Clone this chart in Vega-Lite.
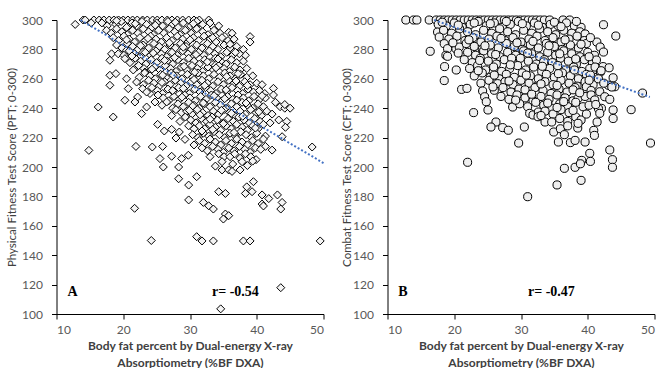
{
"$schema": "https://vega.github.io/schema/vega-lite/v6.json",
"background": "white",
"padding": {"left": 6.5, "top": 13, "right": 0, "bottom": 0},
"bounds": "flush",
"spacing": 64,
"config": {
  "view": {"stroke": null},
  "axis": {"grid": false, "domainColor": "#000000", "domainWidth": 1, "tickColor": "#000000", "tickSize": 5, "tickWidth": 1, "labelFont": "Lato", "labelFontSize": 12, "labelColor": "#595959", "labelOverlap": false, "titleFont": "Lato", "titleColor": "#404040"}
},
"datasets": {
"pft": [
{"x":14.0,"y":300},{"x":14.3,"y":300},{"x":15.6,"y":300},{"x":16.4,"y":300},{"x":17.1,"y":300},{"x":17.9,"y":300},{"x":18.6,"y":300},{"x":19.3,"y":300},{"x":20.0,"y":300},{"x":20.7,"y":300},{"x":21.4,"y":300},{"x":22.1,"y":300},{"x":22.9,"y":300},{"x":23.6,"y":300},{"x":24.4,"y":300},{"x":25.1,"y":300},{"x":25.8,"y":300},{"x":26.6,"y":300},{"x":27.3,"y":300},{"x":28.1,"y":300},{"x":28.9,"y":300},{"x":29.8,"y":300},{"x":30.6,"y":300},{"x":31.4,"y":300},{"x":32.8,"y":300},
{"x":12.8,"y":297},{"x":16.8,"y":298},{"x":17.6,"y":296},{"x":18.9,"y":297},{"x":19.7,"y":299},{"x":20.5,"y":295},{"x":21.3,"y":298},{"x":22.0,"y":296},{"x":22.8,"y":299},{"x":23.5,"y":297},{"x":24.3,"y":295},{"x":25.0,"y":298},{"x":25.9,"y":296},{"x":26.7,"y":299},{"x":27.4,"y":297},{"x":28.2,"y":295},{"x":29.0,"y":298},{"x":30.1,"y":296},{"x":31.0,"y":299},{"x":31.9,"y":297},{"x":33.5,"y":295},{"x":30.8,"y":295.5},
{"x":17.5,"y":293},{"x":18.2,"y":291},{"x":19.0,"y":294},{"x":19.8,"y":292},{"x":20.6,"y":290},{"x":21.4,"y":293},{"x":22.2,"y":291},{"x":23.0,"y":294},{"x":23.8,"y":292},{"x":24.5,"y":290},{"x":25.3,"y":293},{"x":26.1,"y":291},{"x":26.9,"y":294},{"x":27.7,"y":292},{"x":28.5,"y":290},{"x":29.3,"y":293},{"x":30.2,"y":291},{"x":31.0,"y":294},{"x":31.9,"y":292},{"x":32.7,"y":290},{"x":33.6,"y":293},{"x":34.5,"y":291},{"x":35.8,"y":291.6},{"x":36.3,"y":291},
{"x":18.5,"y":288},{"x":19.3,"y":286},{"x":20.1,"y":289},{"x":20.9,"y":287},{"x":21.7,"y":285},{"x":22.5,"y":288},{"x":23.3,"y":286},{"x":24.1,"y":289},{"x":24.9,"y":287},{"x":25.7,"y":285},{"x":26.5,"y":288},{"x":27.3,"y":286},{"x":28.1,"y":289},{"x":28.9,"y":287},{"x":29.7,"y":285},{"x":30.5,"y":288},{"x":31.3,"y":286},{"x":32.1,"y":289},{"x":33.0,"y":287},{"x":33.9,"y":285},{"x":34.8,"y":288},{"x":35.7,"y":286},{"x":39.0,"y":288.7},{"x":39.0,"y":285},{"x":36.6,"y":287},
{"x":19.0,"y":283},{"x":19.8,"y":281},{"x":20.6,"y":284},{"x":21.4,"y":282},{"x":22.2,"y":280},{"x":23.0,"y":283},{"x":23.8,"y":281},{"x":24.6,"y":284},{"x":25.4,"y":282},{"x":26.2,"y":280},{"x":27.0,"y":283},{"x":27.8,"y":281},{"x":28.6,"y":284},{"x":29.4,"y":282},{"x":30.2,"y":280},{"x":31.0,"y":283},{"x":31.8,"y":281},{"x":32.6,"y":284},{"x":33.4,"y":282},{"x":34.2,"y":280},{"x":35.1,"y":283},{"x":36.0,"y":281},{"x":37.0,"y":282},{"x":38.0,"y":280},{"x":20.5,"y":279.4},
{"x":18.25,"y":277},{"x":19.25,"y":277},{"x":20.1,"y":276},{"x":20.9,"y":279},{"x":21.7,"y":277},{"x":22.5,"y":275},{"x":23.3,"y":278},{"x":24.1,"y":276},{"x":24.9,"y":279},{"x":25.7,"y":277},{"x":26.5,"y":275},{"x":27.3,"y":278},{"x":28.1,"y":276},{"x":28.9,"y":279},{"x":29.7,"y":277},{"x":30.5,"y":275},{"x":31.3,"y":278},{"x":32.1,"y":276},{"x":32.9,"y":279},{"x":33.7,"y":277},{"x":34.6,"y":275},{"x":35.5,"y":278},{"x":36.4,"y":276},{"x":38.3,"y":276},{"x":37.4,"y":277},
{"x":20.25,"y":273.7},{"x":18.0,"y":272.6},{"x":21.0,"y":271},{"x":21.8,"y":274},{"x":22.6,"y":272},{"x":23.4,"y":270},{"x":24.2,"y":273},{"x":25.0,"y":271},{"x":25.8,"y":274},{"x":26.6,"y":272},{"x":27.4,"y":270},{"x":28.2,"y":273},{"x":29.0,"y":271},{"x":29.8,"y":274},{"x":30.6,"y":272},{"x":31.4,"y":270},{"x":32.2,"y":273},{"x":33.0,"y":271},{"x":33.8,"y":274},{"x":34.6,"y":272},{"x":35.4,"y":270},{"x":36.2,"y":273},{"x":37.0,"y":271},{"x":38.0,"y":272},
{"x":22.0,"y":268},{"x":21.5,"y":266},{"x":22.3,"y":269},{"x":23.1,"y":267},{"x":23.9,"y":265},{"x":24.7,"y":268},{"x":25.5,"y":266},{"x":26.3,"y":269},{"x":27.1,"y":267},{"x":27.9,"y":265},{"x":28.7,"y":268},{"x":29.5,"y":266},{"x":30.3,"y":269},{"x":31.1,"y":267},{"x":31.9,"y":265},{"x":32.7,"y":268},{"x":33.5,"y":266},{"x":34.3,"y":269},{"x":35.1,"y":267},{"x":35.9,"y":265},{"x":36.7,"y":268},{"x":37.5,"y":266},{"x":38.5,"y":267},
{"x":18.0,"y":262.4},{"x":18.9,"y":263.5},{"x":23.25,"y":264.6},{"x":20.5,"y":260},{"x":22.4,"y":261},{"x":23.2,"y":264},{"x":24.0,"y":262},{"x":24.8,"y":260},{"x":25.6,"y":263},{"x":26.4,"y":261},{"x":27.2,"y":264},{"x":28.0,"y":262},{"x":28.8,"y":260},{"x":29.6,"y":263},{"x":30.4,"y":261},{"x":31.2,"y":264},{"x":32.0,"y":262},{"x":32.8,"y":260},{"x":33.6,"y":263},{"x":34.4,"y":261},{"x":35.2,"y":264},{"x":36.0,"y":262},{"x":36.8,"y":260},{"x":37.6,"y":263},{"x":38.5,"y":261},{"x":39.4,"y":262},
{"x":18.0,"y":255.6},{"x":22.0,"y":257.8},{"x":23.0,"y":256},{"x":23.8,"y":259},{"x":24.6,"y":257},{"x":25.4,"y":255},{"x":26.2,"y":258},{"x":27.0,"y":256},{"x":27.8,"y":259},{"x":28.6,"y":257},{"x":29.4,"y":255},{"x":30.2,"y":258},{"x":31.0,"y":256},{"x":31.8,"y":259},{"x":32.6,"y":257},{"x":33.4,"y":255},{"x":34.2,"y":258},{"x":35.0,"y":256},{"x":35.8,"y":259},{"x":36.6,"y":257},{"x":37.4,"y":255},{"x":38.2,"y":258},{"x":39.0,"y":256},{"x":40.0,"y":257},{"x":40.8,"y":256},
{"x":20.75,"y":253.3},{"x":22.9,"y":253.3},{"x":24.0,"y":250},{"x":23.5,"y":251},{"x":24.3,"y":254},{"x":25.1,"y":252},{"x":25.9,"y":250},{"x":26.7,"y":253},{"x":27.5,"y":251},{"x":28.3,"y":254},{"x":29.1,"y":252},{"x":29.9,"y":250},{"x":30.7,"y":253},{"x":31.5,"y":251},{"x":32.3,"y":254},{"x":33.1,"y":252},{"x":33.9,"y":250},{"x":34.7,"y":253},{"x":35.5,"y":251},{"x":36.3,"y":254},{"x":37.1,"y":252},{"x":37.9,"y":250},{"x":38.7,"y":253},{"x":39.5,"y":251},{"x":40.4,"y":252},{"x":42.5,"y":253.5},{"x":41.2,"y":250},
{"x":20.25,"y":245.4},{"x":22.15,"y":247.6},{"x":25.2,"y":249},{"x":26.0,"y":247},{"x":26.8,"y":245},{"x":27.6,"y":248},{"x":28.4,"y":246},{"x":29.2,"y":249},{"x":30.0,"y":247},{"x":30.8,"y":245},{"x":31.6,"y":248},{"x":32.4,"y":246},{"x":33.2,"y":249},{"x":34.0,"y":247},{"x":34.8,"y":245},{"x":35.6,"y":248},{"x":36.4,"y":246},{"x":37.2,"y":249},{"x":38.0,"y":247},{"x":38.8,"y":245},{"x":39.6,"y":248},{"x":40.4,"y":246},{"x":42.5,"y":249},{"x":41.3,"y":247},
{"x":16.25,"y":240.8},{"x":21.75,"y":244.2},{"x":23.5,"y":240.8},{"x":24.75,"y":244.2},{"x":26.5,"y":244.2},{"x":25.8,"y":242},{"x":27.4,"y":240},{"x":28.2,"y":243},{"x":29.0,"y":241},{"x":29.8,"y":244},{"x":30.6,"y":242},{"x":31.4,"y":240},{"x":32.2,"y":243},{"x":33.0,"y":241},{"x":33.8,"y":244},{"x":34.6,"y":242},{"x":35.4,"y":240},{"x":36.2,"y":243},{"x":37.0,"y":241},{"x":37.8,"y":244},{"x":38.6,"y":242},{"x":39.4,"y":240},{"x":40.2,"y":243},{"x":41.0,"y":241},{"x":42.8,"y":244},{"x":43.5,"y":241},{"x":44.2,"y":240},{"x":45.0,"y":240},{"x":44.2,"y":242.5},
{"x":18.5,"y":234},{"x":22.75,"y":236.3},{"x":27.25,"y":235},{"x":27.9,"y":239},{"x":28.7,"y":237},{"x":29.5,"y":238},{"x":30.3,"y":236},{"x":31.1,"y":239},{"x":31.9,"y":237},{"x":32.7,"y":235},{"x":33.5,"y":238},{"x":34.3,"y":236},{"x":35.1,"y":239},{"x":35.9,"y":237},{"x":36.7,"y":235},{"x":37.5,"y":238},{"x":38.3,"y":236},{"x":39.1,"y":239},{"x":39.9,"y":237},{"x":40.7,"y":235},{"x":41.5,"y":238},{"x":42.3,"y":236},
{"x":28.5,"y":231},{"x":29.3,"y":234},{"x":30.1,"y":232},{"x":30.9,"y":230},{"x":31.7,"y":233},{"x":32.5,"y":231},{"x":33.3,"y":234},{"x":34.1,"y":232},{"x":34.9,"y":230},{"x":35.7,"y":233},{"x":36.5,"y":231},{"x":37.3,"y":234},{"x":38.1,"y":232},{"x":38.9,"y":230},{"x":39.7,"y":233},{"x":40.5,"y":231},{"x":43.3,"y":232},{"x":42.0,"y":230},{"x":44.5,"y":231},{"x":25.15,"y":229},
{"x":26.15,"y":224.5},{"x":27.25,"y":225.6},{"x":28.4,"y":223.8},{"x":29.8,"y":228},{"x":30.6,"y":226},{"x":31.4,"y":228},{"x":32.2,"y":226},{"x":33.0,"y":229},{"x":33.8,"y":227},{"x":34.6,"y":225},{"x":35.4,"y":228},{"x":36.2,"y":226},{"x":37.0,"y":229},{"x":37.8,"y":227},{"x":38.6,"y":225},{"x":39.4,"y":228},{"x":40.2,"y":226},{"x":44.3,"y":227},{"x":41.0,"y":229},
{"x":27.9,"y":219.7},{"x":29.25,"y":218.8},{"x":30.4,"y":222},{"x":31.2,"y":220},{"x":32.0,"y":223},{"x":32.8,"y":221},{"x":33.6,"y":224},{"x":34.4,"y":222},{"x":35.2,"y":220},{"x":36.0,"y":223},{"x":36.8,"y":221},{"x":37.6,"y":224},{"x":38.4,"y":222},{"x":39.2,"y":220},{"x":40.0,"y":223},{"x":43.8,"y":220.6},{"x":41.3,"y":221},
{"x":30.6,"y":215},{"x":31.4,"y":218},{"x":32.2,"y":216},{"x":33.0,"y":219},{"x":33.8,"y":217},{"x":34.6,"y":215},{"x":35.4,"y":218},{"x":36.2,"y":216},{"x":37.0,"y":219},{"x":37.8,"y":217},{"x":38.6,"y":215},{"x":39.4,"y":218},{"x":40.2,"y":216},{"x":41.0,"y":219},
{"x":14.85,"y":211.3},{"x":21.9,"y":214},{"x":24.35,"y":213.6},{"x":25.9,"y":214},{"x":31.8,"y":213},{"x":32.6,"y":211},{"x":33.4,"y":214},{"x":34.2,"y":212},{"x":35.0,"y":210},{"x":35.8,"y":213},{"x":36.6,"y":211},{"x":37.4,"y":214},{"x":38.2,"y":212},{"x":39.0,"y":210},{"x":39.8,"y":213},{"x":41.3,"y":214},{"x":42.3,"y":211.5},{"x":48.3,"y":213.6},{"x":40.6,"y":212},
{"x":25.5,"y":205.7},{"x":27.25,"y":207.3},{"x":28.75,"y":205.7},{"x":29.75,"y":208},{"x":33.0,"y":207},{"x":34.3,"y":209},{"x":35.1,"y":207},{"x":36.0,"y":207},{"x":36.7,"y":209},{"x":37.5,"y":206},{"x":38.3,"y":209},{"x":39.1,"y":207},{"x":39.9,"y":205},
{"x":26.0,"y":200},{"x":28.3,"y":200},{"x":34.8,"y":203.6},{"x":33.8,"y":200.6},{"x":37.8,"y":203.6},{"x":36.4,"y":202},{"x":38.6,"y":201},{"x":39.4,"y":204},
{"x":34.8,"y":198},{"x":35.8,"y":198},{"x":37.5,"y":198},{"x":36.3,"y":197},{"x":28.3,"y":192},{"x":31.0,"y":193.4},{"x":29.8,"y":187.7},{"x":29.8,"y":177.6},{"x":34.3,"y":183.2},{"x":35.3,"y":182},{"x":39.5,"y":190},{"x":38.5,"y":186.5},{"x":39.3,"y":183.2},{"x":38.3,"y":182},{"x":40.8,"y":181},{"x":41.8,"y":178.5},{"x":43.1,"y":181},{"x":40.8,"y":174.8},{"x":43.8,"y":175.9},{"x":43.6,"y":171.4},{"x":41.0,"y":173.5},{"x":32.0,"y":175.9},{"x":32.8,"y":173.6},{"x":33.5,"y":171.4},{"x":35.3,"y":168},{"x":35.0,"y":164.6},{"x":35.8,"y":166.9},{"x":31.0,"y":152.6},{"x":31.8,"y":149.7},{"x":33.5,"y":149.7},{"x":38.0,"y":149.7},{"x":39.0,"y":149.7},{"x":49.5,"y":149.7},{"x":24.2,"y":150},{"x":21.7,"y":171.9},{"x":43.6,"y":117.9},{"x":34.6,"y":103.5},
{"x":15.2,"y":298},{"x":19.0,"y":299.5},{"x":21.8,"y":297.5},{"x":24.8,"y":296.5},{"x":27.8,"y":298.5},{"x":30.5,"y":297.5},{"x":33.0,"y":298},{"x":34.3,"y":296},
{"x":20.5,"y":286.5},{"x":23.7,"y":287.5},{"x":26.9,"y":284.5},{"x":30.0,"y":286.5},{"x":33.4,"y":288},{"x":36.0,"y":283.5},{"x":29.0,"y":281.5},{"x":22.6,"y":282.5},
{"x":21.3,"y":275.5},{"x":24.5,"y":277.5},{"x":27.7,"y":274.5},{"x":30.9,"y":276.5},{"x":34.2,"y":273.5},{"x":36.8,"y":278},{"x":26.2,"y":272.5},{"x":32.6,"y":271.5},
{"x":24.3,"y":266.5},{"x":27.5,"y":262.5},{"x":30.7,"y":264.5},{"x":33.9,"y":267.5},{"x":37.2,"y":263.5},{"x":29.1,"y":268.5},{"x":35.5,"y":261.5},{"x":25.9,"y":262.5},
{"x":25.8,"y":257.5},{"x":29.0,"y":253.5},{"x":32.2,"y":255.5},{"x":35.4,"y":252.5},{"x":38.6,"y":255.5},{"x":30.6,"y":259.5},{"x":36.9,"y":258.5},{"x":27.4,"y":252},
{"x":28.8,"y":247.5},{"x":32.0,"y":243.5},{"x":35.2,"y":246.5},{"x":38.4,"y":243.5},{"x":40.8,"y":248.5},{"x":33.6,"y":248.5},{"x":30.4,"y":241.5},{"x":37.0,"y":245.5},
{"x":31.5,"y":235.5},{"x":34.7,"y":238.5},{"x":37.9,"y":234.5},{"x":40.3,"y":237.5},{"x":33.0,"y":232.5},{"x":36.2,"y":236.5},{"x":29.9,"y":238.5},
{"x":33.4,"y":225.5},{"x":36.6,"y":223.5},{"x":39.8,"y":226.5},{"x":35.0,"y":229.5},{"x":31.8,"y":224.5}
],
"cft": [
{"x":12.75,"y":300},{"x":13.9,"y":300},{"x":14.4,"y":300},{"x":16.25,"y":300},{"x":17.3,"y":300},{"x":17.9,"y":300},{"x":18.5,"y":300},{"x":19.1,"y":300},{"x":19.7,"y":300},{"x":20.3,"y":300},{"x":20.9,"y":300},{"x":21.5,"y":300},{"x":22.1,"y":300},{"x":22.7,"y":300},{"x":23.3,"y":300},{"x":23.9,"y":300},{"x":24.5,"y":300},{"x":25.1,"y":300},{"x":25.7,"y":300},{"x":26.3,"y":300},{"x":26.9,"y":300},{"x":27.5,"y":300},{"x":28.1,"y":300},{"x":28.7,"y":300},{"x":29.3,"y":300},{"x":29.9,"y":300},{"x":30.5,"y":300},{"x":31.1,"y":300},{"x":31.7,"y":300},{"x":32.3,"y":300},{"x":32.9,"y":300},{"x":33.5,"y":300},{"x":34.3,"y":300},{"x":36.3,"y":300},{"x":37.3,"y":300},
{"x":17.6,"y":297},{"x":18.8,"y":296},{"x":20.0,"y":298},{"x":21.2,"y":295},{"x":22.4,"y":297},{"x":23.6,"y":299},{"x":24.8,"y":296},{"x":26.0,"y":298},{"x":27.2,"y":295},{"x":28.4,"y":297},{"x":29.6,"y":299},{"x":30.8,"y":296},{"x":32.0,"y":298},{"x":33.2,"y":295},{"x":34.4,"y":297},{"x":35.6,"y":296},{"x":36.8,"y":298},{"x":38.0,"y":296},{"x":39.0,"y":295},{"x":42.36,"y":296.8},
{"x":17.5,"y":291.8},{"x":18.4,"y":293},{"x":19.6,"y":291},{"x":20.8,"y":294},{"x":22.0,"y":292},{"x":23.2,"y":290},{"x":24.4,"y":293},{"x":25.6,"y":291},{"x":26.8,"y":294},{"x":28.0,"y":292},{"x":29.2,"y":290},{"x":30.4,"y":293},{"x":31.6,"y":291},{"x":32.8,"y":294},{"x":34.0,"y":292},{"x":35.2,"y":290},{"x":36.4,"y":293},{"x":37.6,"y":291},{"x":38.8,"y":292},{"x":39.6,"y":290.5},
{"x":17.75,"y":288.4},{"x":19.2,"y":287},{"x":20.4,"y":289},{"x":21.6,"y":286},{"x":22.8,"y":288},{"x":24.0,"y":285},{"x":25.2,"y":287},{"x":26.4,"y":289},{"x":27.6,"y":286},{"x":28.8,"y":288},{"x":30.0,"y":285},{"x":31.2,"y":287},{"x":32.4,"y":289},{"x":33.6,"y":286},{"x":34.8,"y":288},{"x":36.0,"y":285},{"x":37.2,"y":287},{"x":38.4,"y":289},{"x":39.5,"y":286},{"x":44.2,"y":289.1},{"x":41.36,"y":285},
{"x":18.5,"y":283.9},{"x":19.0,"y":280.5},{"x":20.25,"y":280.5},{"x":20.75,"y":281.6},{"x":21.8,"y":284},{"x":23.0,"y":282},{"x":24.2,"y":280},{"x":25.4,"y":283},{"x":26.6,"y":281},{"x":27.8,"y":284},{"x":29.0,"y":282},{"x":30.2,"y":280},{"x":31.4,"y":283},{"x":32.6,"y":281},{"x":33.8,"y":284},{"x":35.0,"y":282},{"x":36.2,"y":280},{"x":37.4,"y":283},{"x":38.6,"y":281},{"x":39.8,"y":284},{"x":41.86,"y":281.6},
{"x":16.4,"y":278.7},{"x":18.75,"y":276},{"x":19.0,"y":275.3},{"x":22.0,"y":278},{"x":23.2,"y":276},{"x":24.4,"y":279},{"x":25.6,"y":277},{"x":26.8,"y":275},{"x":28.0,"y":278},{"x":29.2,"y":276},{"x":30.4,"y":279},{"x":31.6,"y":277},{"x":32.8,"y":275},{"x":34.0,"y":278},{"x":35.2,"y":276},{"x":36.4,"y":279},{"x":37.6,"y":277},{"x":38.8,"y":275},{"x":40.0,"y":278},{"x":41.0,"y":276},{"x":42.36,"y":278.2},
{"x":21.5,"y":273},{"x":22.7,"y":271},{"x":23.9,"y":274},{"x":25.1,"y":272},{"x":26.3,"y":270},{"x":27.5,"y":273},{"x":28.7,"y":271},{"x":29.9,"y":274},{"x":31.1,"y":272},{"x":32.3,"y":270},{"x":33.5,"y":273},{"x":34.7,"y":271},{"x":35.9,"y":274},{"x":37.1,"y":272},{"x":38.3,"y":270},{"x":39.5,"y":273},{"x":40.7,"y":271},{"x":41.3,"y":272.8},
{"x":18.55,"y":268.3},{"x":20.3,"y":266},{"x":22.3,"y":267},{"x":23.5,"y":269},{"x":24.7,"y":266},{"x":25.9,"y":268},{"x":27.1,"y":265},{"x":28.3,"y":267},{"x":29.5,"y":269},{"x":30.7,"y":266},{"x":31.9,"y":268},{"x":33.1,"y":265},{"x":34.3,"y":267},{"x":35.5,"y":269},{"x":36.7,"y":266},{"x":37.9,"y":268},{"x":39.1,"y":265},{"x":40.3,"y":267},{"x":41.1,"y":268},{"x":42.3,"y":268.3},{"x":43.2,"y":267.5},
{"x":23.0,"y":262},{"x":24.2,"y":264},{"x":25.4,"y":261},{"x":26.75,"y":260},{"x":27.8,"y":263},{"x":29.0,"y":261},{"x":30.2,"y":264},{"x":31.4,"y":262},{"x":32.6,"y":260},{"x":33.8,"y":263},{"x":35.0,"y":261},{"x":36.2,"y":264},{"x":37.4,"y":262},{"x":38.6,"y":260},{"x":39.8,"y":263},{"x":41.0,"y":261},{"x":41.9,"y":264.6},{"x":43.8,"y":260.7},
{"x":18.5,"y":258.8},{"x":24.0,"y":257},{"x":25.2,"y":259},{"x":26.5,"y":256.7},{"x":27.6,"y":258},{"x":28.8,"y":256},{"x":30.0,"y":259},{"x":31.2,"y":257},{"x":32.4,"y":255},{"x":33.6,"y":258},{"x":34.8,"y":256},{"x":36.0,"y":259},{"x":37.2,"y":257},{"x":38.4,"y":255},{"x":39.6,"y":258},{"x":40.8,"y":256},{"x":41.6,"y":260},{"x":43.1,"y":255.6},{"x":44.05,"y":254.6},
{"x":21.1,"y":252.8},{"x":21.9,"y":253.5},{"x":24.25,"y":251.7},{"x":26.0,"y":252.2},{"x":27.3,"y":254},{"x":28.5,"y":251},{"x":29.7,"y":253},{"x":30.9,"y":250},{"x":32.1,"y":254},{"x":33.3,"y":252},{"x":34.5,"y":250},{"x":35.7,"y":253},{"x":36.9,"y":251},{"x":38.1,"y":254},{"x":39.8,"y":254.6},{"x":41.8,"y":251.2},{"x":43.6,"y":254.4},{"x":48.2,"y":250.3},{"x":40.5,"y":252},
{"x":24.55,"y":247.8},{"x":27.0,"y":248},{"x":28.2,"y":246},{"x":29.4,"y":249},{"x":30.6,"y":247},{"x":31.8,"y":245},{"x":33.0,"y":248},{"x":34.2,"y":246},{"x":35.4,"y":249},{"x":36.6,"y":247},{"x":37.8,"y":245},{"x":38.55,"y":246.7},{"x":39.6,"y":248},{"x":40.5,"y":249},{"x":41.05,"y":245.6},{"x":42.55,"y":247.8},{"x":43.3,"y":246},
{"x":24.8,"y":244.4},{"x":28.75,"y":240.8},{"x":29.8,"y":243},{"x":31.0,"y":241},{"x":32.2,"y":244},{"x":33.4,"y":242},{"x":34.6,"y":240},{"x":35.8,"y":243},{"x":37.0,"y":241},{"x":38.2,"y":244},{"x":39.3,"y":241},{"x":40.2,"y":242},{"x":42.05,"y":239.9},{"x":43.8,"y":238.8},
{"x":25.05,"y":238.8},{"x":22.9,"y":237},{"x":31.3,"y":236.5},{"x":31.8,"y":235.4},{"x":32.6,"y":237.4},{"x":33.6,"y":238},{"x":34.8,"y":236},{"x":36.0,"y":239},{"x":37.2,"y":237},{"x":41.6,"y":239.7},{"x":41.8,"y":236.5},{"x":46.5,"y":239},{"x":43.8,"y":233},
{"x":32.55,"y":234.2},{"x":33.6,"y":230.6},{"x":34.6,"y":230.6},{"x":35.8,"y":233},{"x":37.0,"y":231},{"x":38.2,"y":234},{"x":39.0,"y":232},{"x":41.4,"y":230.6},{"x":26.25,"y":230.6},
{"x":25.5,"y":227.2},{"x":27.25,"y":226.8},{"x":28.1,"y":225},{"x":30.5,"y":227.2},{"x":34.9,"y":223.8},{"x":35.9,"y":226},{"x":38.5,"y":226.5},{"x":38.55,"y":229.7},{"x":40.9,"y":224.9},{"x":41.0,"y":221.5},{"x":37.0,"y":228},{"x":36.5,"y":222},
{"x":29.65,"y":216.3},{"x":35.6,"y":217},{"x":37.4,"y":216.6},{"x":38.1,"y":218.1},{"x":39.6,"y":217},{"x":43.3,"y":211.6},{"x":49.4,"y":216.3},
{"x":40.3,"y":209.3},{"x":39.1,"y":204.5},{"x":43.7,"y":205},{"x":36.5,"y":199.1},{"x":38.1,"y":199.8},{"x":38.9,"y":202.2},{"x":40.4,"y":203.8},{"x":43.7,"y":199.8},{"x":22.0,"y":203.2},
{"x":39.0,"y":190.9},{"x":35.4,"y":187.8},{"x":31.0,"y":179.8},
{"x":18.2,"y":298.5},{"x":20.6,"y":296.5},{"x":23.0,"y":298},{"x":25.4,"y":297.5},{"x":27.8,"y":299},{"x":30.2,"y":297.5},{"x":32.6,"y":296.5},{"x":35.0,"y":298.5},{"x":36.0,"y":295.5},{"x":38.3,"y":299},
{"x":19.8,"y":284.5},{"x":22.2,"y":286.5},{"x":24.6,"y":282.5},{"x":27.0,"y":287.5},{"x":29.4,"y":284.5},{"x":31.8,"y":285.5},{"x":34.2,"y":282.5},{"x":36.6,"y":286.5},{"x":39.0,"y":283.5},{"x":40.4,"y":288},
{"x":20.6,"y":277.5},{"x":23.8,"y":272.5},{"x":26.2,"y":276.5},{"x":28.6,"y":274},{"x":31.0,"y":277.5},{"x":33.4,"y":271.5},{"x":35.8,"y":277},{"x":38.2,"y":273.5},{"x":40.2,"y":275},
{"x":23.6,"y":265.5},{"x":26.0,"y":262.5},{"x":28.4,"y":269.5},{"x":30.8,"y":262.5},{"x":33.2,"y":268.5},{"x":35.6,"y":263.5},{"x":38.0,"y":266},{"x":40.4,"y":262.5},{"x":42.0,"y":265.5},
{"x":25.8,"y":254.5},{"x":28.2,"y":258.5},{"x":30.6,"y":252.5},{"x":33.0,"y":256.5},{"x":35.4,"y":255.5},{"x":37.8,"y":252.5},{"x":40.2,"y":259},{"x":42.4,"y":257},
{"x":29.2,"y":245.5},{"x":31.6,"y":249.5},{"x":34.0,"y":243.5},{"x":36.4,"y":244.5},{"x":38.8,"y":250.5},{"x":41.2,"y":242.5},
{"x":33.0,"y":235},{"x":35.4,"y":240.5},{"x":37.8,"y":238.5},{"x":39.8,"y":236}
],
"trendA": [{"x":13.6,"y":300},{"x":50,"y":202.7}],
"trendB": [{"x":17.0,"y":300},{"x":49.3,"y":247.6}],
"annA": [{"x":12.4,"y":114.7,"label":"A"},{"x":36.8,"y":114.7,"label":"r= -0.54"}],
"annB": [{"x":12.3,"y":114.7,"label":"B"},{"x":34.55,"y":114.7,"label":"r= -0.47"}]
},
"hconcat": [
{
 "width": 267, "height": 294,
 "encoding": {
  "x": {"field": "x", "type": "quantitative", "scale": {"domain": [10, 50], "nice": false}, "axis": {"values": [10,20,30,40,50], "labelOverlap": false, "labelPadding": 5, "title": ["Body fat percent by Dual-energy  X-ray", "Absorptiometry (%BF DXA)"], "titleFontWeight": "bold", "titleFontSize": 12, "titleLineHeight": 17, "titlePadding": 5}},
  "y": {"field": "y", "type": "quantitative", "scale": {"domain": [100, 300], "nice": false}, "axis": {"values": [100,120,140,160,180,200,220,240,260,280,300], "labelOverlap": false, "labelPadding": 9, "title": "Physical Fitness Test Score (PFT; 0-300)", "titleFontWeight": "normal", "titleFontSize": 11.5, "titlePadding": 4}}
 },
 "layer": [
  {"data": {"name": "pft"}, "mark": {"type": "point", "shape": "diamond", "filled": true, "fill": "#f4f4f4", "stroke": "#000000", "strokeWidth": 1, "size": 64, "opacity": 1}},
  {"data": {"name": "trendA"}, "mark": {"type": "line", "color": "#4472C4", "strokeWidth": 2, "strokeDash": [2, 2]}},
  {"data": {"name": "annA"}, "mark": {"type": "text", "font": "Liberation Serif", "fontWeight": "bold", "fontSize": 14, "color": "#000000", "align": "center", "baseline": "middle"}, "encoding": {"text": {"field": "label"}}}
 ]
},
{
 "width": 267, "height": 294,
 "encoding": {
  "x": {"field": "x", "type": "quantitative", "scale": {"domain": [10, 50], "nice": false}, "axis": {"values": [10,20,30,40,50], "labelOverlap": false, "labelPadding": 5, "title": ["Body fat percent by Dual-energy  X-ray", "Absorptiometry (%BF DXA)"], "titleFontWeight": "bold", "titleFontSize": 12, "titleLineHeight": 17, "titlePadding": 5}},
  "y": {"field": "y", "type": "quantitative", "scale": {"domain": [100, 300], "nice": false}, "axis": {"values": [100,120,140,160,180,200,220,240,260,280,300], "labelOverlap": false, "labelPadding": 9, "title": "Combat Fitness Test Score (CFT; 0-300)", "titleFontWeight": "normal", "titleFontSize": 11.5, "titlePadding": 0}}
 },
 "layer": [
  {"data": {"name": "cft"}, "mark": {"type": "point", "shape": "circle", "filled": true, "fill": "#efefef", "stroke": "#000000", "strokeWidth": 1, "size": 66, "opacity": 1}},
  {"data": {"name": "trendB"}, "mark": {"type": "line", "color": "#4472C4", "strokeWidth": 2, "strokeDash": [2, 2]}},
  {"data": {"name": "annB"}, "mark": {"type": "text", "font": "Liberation Serif", "fontWeight": "bold", "fontSize": 14, "color": "#000000", "align": "center", "baseline": "middle"}, "encoding": {"text": {"field": "label"}}}
 ]
}
]
}
